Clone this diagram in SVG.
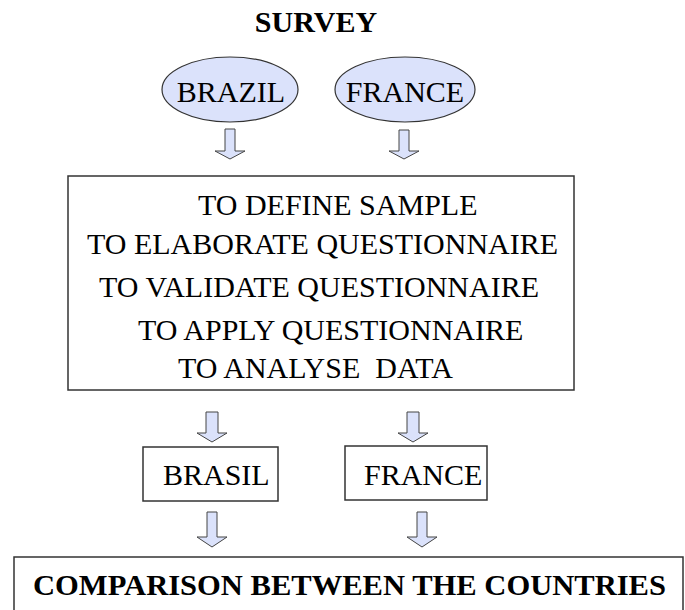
<svg xmlns="http://www.w3.org/2000/svg" width="685" height="610" viewBox="0 0 685 610">
<style>
.t{font-family:"Liberation Serif","Times New Roman",serif;font-size:30px;fill:#000;white-space:pre}
.b{font-weight:bold}
.box{fill:#fff;stroke:#333;stroke-width:1.5}
.ell{fill:#dbe2fb;stroke:#333;stroke-width:1.2}
.arr{fill:#dbe2fb;stroke:#444;stroke-width:1}
</style>
<rect width="685" height="610" fill="#fff"/>
<text id="title" class="t b" x="316" y="32" text-anchor="middle">SURVEY</text>
<g id="n-brazil">
<ellipse class="ell" cx="230" cy="89.5" rx="68" ry="32.5"/>
<text class="t" x="231" y="102" text-anchor="middle">BRAZIL</text>
</g>
<g id="n-france">
<ellipse class="ell" cx="405" cy="89.5" rx="70" ry="32.5"/>
<text class="t" x="405" y="102" text-anchor="middle">FRANCE</text>
</g>
<g id="n-steps">
<rect class="box" x="68" y="176" width="506" height="214"/>
<text class="t" x="198" y="215">TO DEFINE SAMPLE</text>
<text class="t" x="87" y="254">TO ELABORATE QUESTIONNAIRE</text>
<text class="t" x="99" y="297">TO VALIDATE QUESTIONNAIRE</text>
<text class="t" x="138" y="340">TO APPLY QUESTIONNAIRE</text>
<text class="t" x="178" y="378">TO ANALYSE  DATA</text>
</g>
<g id="n-brasil">
<rect class="box" x="143" y="447" width="135" height="54"/>
<text class="t" x="163" y="485">BRASIL</text>
</g>
<g id="n-france2">
<rect class="box" x="345" y="446" width="142" height="54"/>
<text class="t" x="364" y="485">FRANCE</text>
</g>
<g id="n-comparison">
<rect class="box" x="14" y="557" width="669" height="80"/>
<text class="t b" x="33" y="595" font-size="31" textLength="633" lengthAdjust="spacingAndGlyphs">COMPARISON BETWEEN THE COUNTRIES</text>
</g>
<g id="connectors">
<path class="arr" d="M225,129 H235 V151 H245 L230,159 L215,151 H225 Z"/>
<path class="arr" d="M399,130 H409 V151 H419 L404,159 L389,151 H399 Z"/>
<path class="arr" d="M206,412 H218 V433 H227 L212,442 L197,433 H206 Z"/>
<path class="arr" d="M407,412 H419 V433 H428 L413,442 L398,433 H407 Z"/>
<path class="arr" d="M207,512 H217 V537 H227 L212,547 L197,537 H207 Z"/>
<path class="arr" d="M417,512 H427 V537 H437 L422,547 L407,537 H417 Z"/>
</g>
</svg>
